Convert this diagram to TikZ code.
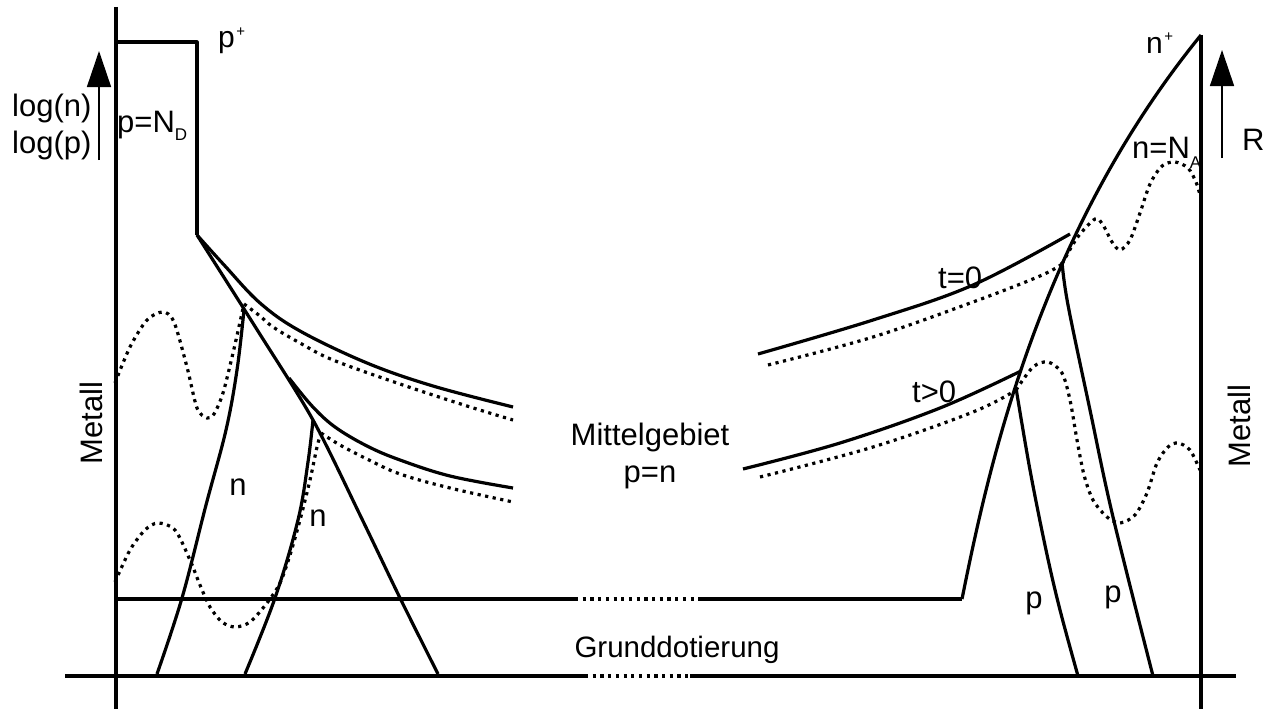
\documentclass[tikz,border=0pt]{standalone}
\usepackage{fontspec}
\setmainfont{Liberation Sans}
\usetikzlibrary{arrows.meta}
\begin{document}
\begin{tikzpicture}[x=1pt,y=-1pt,
  ln/.style={line width=3.2pt, line join=round},
  dl/.style={line width=3.2pt, dash pattern=on 3.2pt off 4.5pt},
  ax/.style={line width=1.5pt, -{Triangle[length=36pt,width=24pt]}},
  lbl/.style={inner sep=0pt, font=\fontsize{31}{31}\selectfont},
  slbl/.style={inner sep=0pt, font=\fontsize{30}{30}\selectfont},
]
\useasboundingbox (0,0) rectangle (1271,709);

% axes and frame lines
\draw[ln] (116,7) -- (116,709);
\draw[ln] (1201,35) -- (1201,709);
\draw[ln] (116,42) -- (197,42) -- (197,235);
\draw[ln] (65,676) -- (585,676);
\draw[dl] (585,676) -- (690,676);
\draw[ln] (690,676) -- (1236,676);
\draw[ln] (116,599) -- (575,599);
\draw[dl] (575,599) -- (698,599);
\draw[ln] (698,599) -- (962,599);

% arrows
\coordinate (la0) at (99,160); \coordinate (la1) at (99,51);
\coordinate (ra0) at (1222,158); \coordinate (ra1) at (1222,50);
\draw[ax] (la0) -- (la1);
\draw[ax] (ra0) -- (ra1);

% left side curves
\draw[ln] plot[smooth,tension=0.6] coordinates {(197,235) (225,266) (260,303) (300,331) (367,363) (433,386) (513,407)};
\draw[ln] plot[smooth,tension=0.5] coordinates {(197,235) (256,328) (313,420) (361,517) (400,598) (438,674)};
\draw[ln] plot[smooth,tension=0.6] coordinates {(289,378) (312,406) (335,427) (367,446) (400,460) (450,476) (513,488)};
\draw[ln] plot[smooth,tension=0.6] coordinates {(244,310) (237,370) (226,430) (206,505) (182,598) (157,674)};
\draw[ln] plot[smooth,tension=0.6] coordinates {(313,420) (308,462) (298,520) (275,598) (245,674)};

\draw[dl] plot[smooth,tension=0.5] coordinates {(115,383) (130,347) (147,320) (163,312) (174,322) (187,367) (197,408) (207,418) (214,414) (223,393) (233,353) (240,322) (244,304)};
\draw[dl] plot[smooth,tension=0.6] coordinates {(244,304) (260,316) (273,327) (300,343) (333,360) (400,384) (467,406) (513,420)};
\draw[dl] plot[smooth,tension=0.5] coordinates {(115,582) (130,550) (145,530) (158,523) (175,530) (190,560) (200,585) (210,607) (222,622) (235,627) (250,622) (267,603) (280,583) (290,555) (300,520) (310,480) (317,447) (321,433)};
\draw[dl] plot[smooth,tension=0.6] coordinates {(321,433) (340,445) (367,459) (400,474) (450,488) (513,502)};

% right side curves
\draw[ln] (962,599) .. controls (988,470) and (1038,235) .. (1201,35);
\draw[ln] plot[smooth,tension=0.6] coordinates {(758,354) (873,320) (973,285) (1070,234)};
\draw[ln] plot[smooth,tension=0.6] coordinates {(743,469) (840,443) (940,408) (1021,371)};
\draw[ln] plot[smooth,tension=0.6] coordinates {(1062,262) (1068,305) (1090,410) (1113,517) (1153,676)};
\draw[ln] plot[smooth,tension=0.6] coordinates {(1016,388) (1030,470) (1046,550) (1060,610) (1078,676)};

\draw[dl] plot[smooth,tension=0.6] coordinates {(768,365) (873,337) (973,302) (1040,276) (1062,264)};
\draw[dl] plot[smooth,tension=0.5] coordinates {(1062,264) (1077,238) (1095,219) (1103,225) (1112,242) (1120,250) (1130,240) (1140,213) (1150,184) (1162,166) (1175,162) (1188,168) (1196,182) (1200,195)};
\draw[dl] plot[smooth,tension=0.6] coordinates {(760,477) (873,447) (973,412) (1016,390)};
\draw[dl] plot[smooth,tension=0.5] coordinates {(1016,390) (1033,367) (1048,362) (1062,373) (1070,400) (1077,440) (1084,475) (1093,500) (1107,517) (1120,523) (1135,515) (1147,493) (1157,463) (1168,447) (1178,443) (1190,450) (1200,470)};

% labels
\node[slbl, anchor=base west] (pplus) at (218,48) {p\kern1.5pt\raisebox{11pt}{\fontsize{15}{15}\selectfont +}};
\node[slbl, anchor=base west] (nplus) at (1146,53) {n\kern1.5pt\raisebox{11pt}{\fontsize{15}{15}\selectfont +}};
\node[lbl, anchor=base west] (logn) at (12,116) {log(n)};
\node[lbl, anchor=base west] (logp) at (12,153) {log(p)};
\node[lbl, anchor=base west] (pnd) at (117,132) {p=N\raisebox{-8pt}{\fontsize{17}{17}\selectfont D}};
\node[lbl, anchor=base west] (nna) at (1132,158) {n=N\raisebox{-10pt}{\fontsize{17}{17}\selectfont A}};
\node[lbl, anchor=base west] (R) at (1242,150) {R};
\node[lbl, rotate=90] (metl) at (91,423) {Metall};
\node[lbl, rotate=90] (metr) at (1239,426) {Metall};
\node[lbl, anchor=base] (mitte) at (650,445) {Mittelgebiet};
\node[lbl, anchor=base] (pn) at (650,482) {p=n};
\node[inner sep=0pt, font=\fontsize{29.5}{29.5}\selectfont, anchor=base] (grund) at (677,657) {Grunddotierung};
\node[lbl, anchor=base west] (t0) at (938,288) {t=0};
\node[lbl, anchor=base west] (tg0) at (912,402) {t>0};
\node[lbl] (n1) at (238,487) {n};
\node[lbl] (n2) at (318,518) {n};
\node[lbl] (p1) at (1034,603) {p};
\node[lbl] (p2) at (1113,597) {p};
\end{tikzpicture}
\end{document}
